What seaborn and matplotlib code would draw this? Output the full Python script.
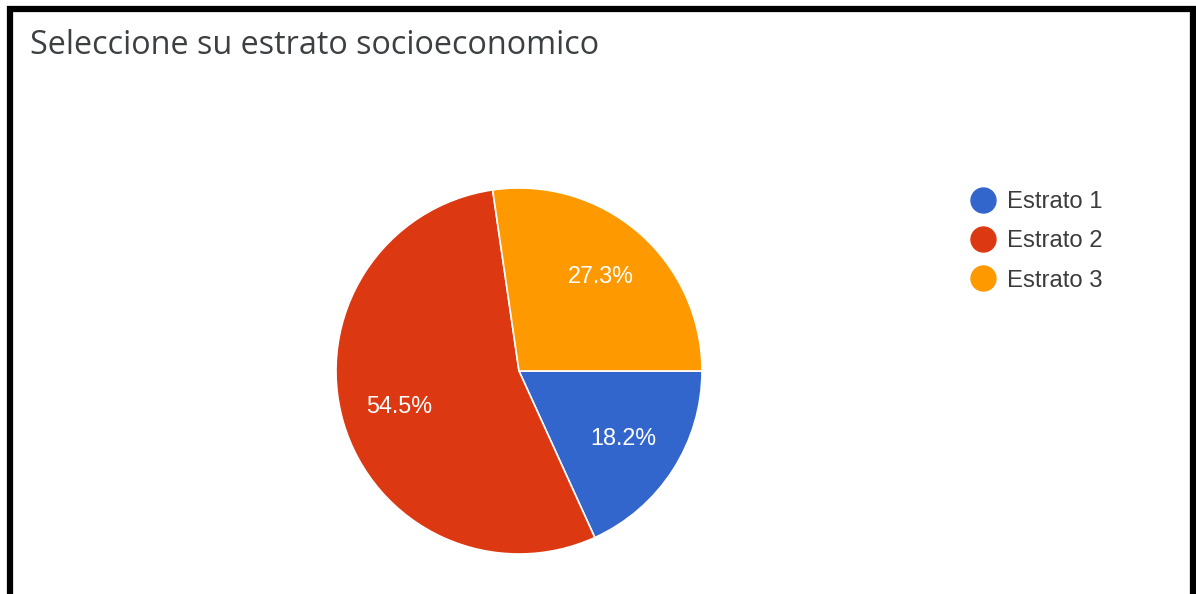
import matplotlib
matplotlib.use("Agg")
import matplotlib.pyplot as plt
from matplotlib.lines import Line2D
from matplotlib.patches import Rectangle
import seaborn as sns

title = "Seleccione su estrato socioeconomico"
categories = ["Estrato 1", "Estrato 2", "Estrato 3"]
percentages = [18.2, 54.5, 27.3]
colors = ["#3366CC", "#DC3912", "#FF9900"]

sns.set_theme(style="white")
plt.rcParams["font.family"] = ["Liberation Sans", "DejaVu Sans"]

W, H = 1196, 594
fig = plt.figure(figsize=(W / 100, H / 100), dpi=100)
fig.patch.set_facecolor("white")

# Pie centred at (519, 371) px with radius 183 px
cx, cy, r = 519, 371, 183
ax = fig.add_axes([(cx - r) / W, (H - cy - r) / H, 2 * r / W, 2 * r / H])
wedges, texts, autotexts = ax.pie(
    percentages,
    colors=colors,
    startangle=0,
    counterclock=False,
    autopct=lambda p: f"{p:.1f}%",
    pctdistance=0.68,
    wedgeprops=dict(edgecolor="white", linewidth=1.2),
    textprops=dict(color="white", fontsize=16.8),
)
ax.set_xlim(-1, 1)
ax.set_ylim(-1, 1)
ax.set_axis_off()

# Title
fig.text(30 / W, 1 - 46 / H, title, fontsize=23.3, color="#3c4043",
         family=["Open Sans", "DejaVu Sans"], va="center", ha="left")

# Legend
handles = [Line2D([0], [0], marker="o", linestyle="", markersize=18,
                  markerfacecolor=c, markeredgecolor=c) for c in colors]
leg = fig.legend(handles, categories, loc="upper left",
                 bbox_to_anchor=(958 / W, 1 - 179 / H),
                 frameon=False, fontsize=17.2, handletextpad=0.45,
                 labelspacing=0.73, handlelength=1.1, borderpad=0)
for t in leg.get_texts():
    t.set_color("#3c3c3c")

# Black frame around the chart card (bottom edge lies beyond the image)
frame = Rectangle((10 / W, -0.05), (1193 - 10) / W, 1 - 9 / H + 0.05,
                  transform=fig.transFigure, fill=False,
                  edgecolor="black", linewidth=4.5, clip_on=False)
fig.patches.append(frame)

fig.savefig("out.png", dpi=100, facecolor="white")
